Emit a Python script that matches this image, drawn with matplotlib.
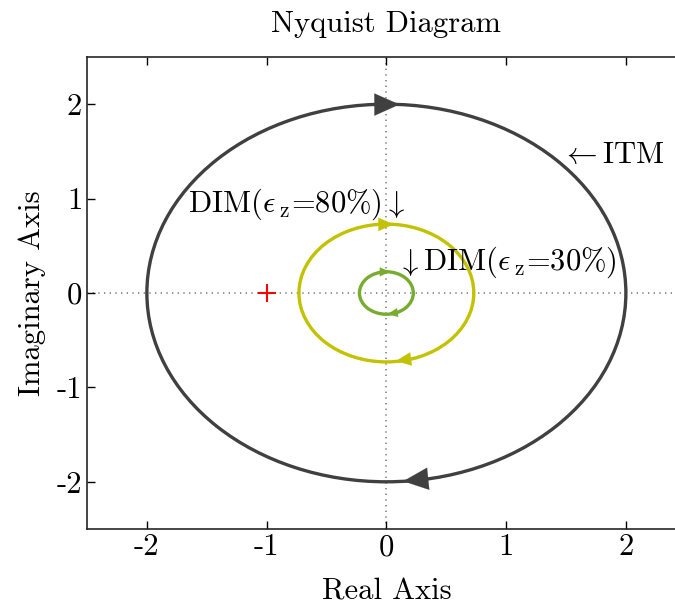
import matplotlib
matplotlib.use("Agg")
import matplotlib.pyplot as plt
from matplotlib.patches import Ellipse

plt.rcParams['font.family'] = 'serif'
plt.rcParams['font.serif'] = ['cmr10']
plt.rcParams['mathtext.fontset'] = 'cm'
plt.rcParams['axes.unicode_minus'] = False
plt.rcParams['axes.formatter.use_mathtext'] = True

# Curves (approximately circular Nyquist loops)
names = ['ITM', 'DIM80', 'DIM30']
center_x = [0.0, 0.0, 0.0]
center_y = [0.0, 0.0, 0.0]
radius_x = [2.0, 0.73, 0.225]
radius_y = [2.0, 0.73, 0.225]
colors = ['#404040', '#c2c200', '#77ac30']

# Direction arrows: (tail_x, tail_y, tip_x, tip_y)
arrows = {
    'ITM':   [(-0.12, 1.996, 0.11, 1.997), (0.36, -1.966, 0.14, -1.994)],
    'DIM80': [(-0.06, 0.727, 0.06, 0.727), (0.20, -0.70, 0.08, -0.72)],
    'DIM30': [(-0.04, 0.224, 0.03, 0.224), (0.07, -0.212, 0.01, -0.224)],
}
arrow_scale = {'ITM': 20, 'DIM80': 12, 'DIM30': 8}

critical_point = (-1.0, 0.0)

xticks = [-2, -1, 0, 1, 2]
yticks = [-2, -1, 0, 1, 2]

FS = 22

fig = plt.figure(figsize=(6.75, 6.06), dpi=100)
ax = fig.add_axes([87/675, (606-529)/606, 598.75/675, 472/606])

ax.axhline(0, color='#808080', ls=(0, (0.8, 2.6)), lw=1.2, zorder=1)
ax.axvline(0, color='#808080', ls=(0, (0.8, 2.6)), lw=1.2, zorder=1)

for n, cx, cy, rx, ry, c in zip(names, center_x, center_y, radius_x, radius_y, colors):
    e = Ellipse((cx, cy), 2*rx, 2*ry, fill=False, edgecolor=c, lw=2.4, zorder=3)
    ax.add_patch(e)
    for (tx, ty, hx, hy) in arrows[n]:
        ax.annotate('', xy=(hx, hy), xytext=(tx, ty),
                    arrowprops=dict(arrowstyle='-|>,head_length=0.9,head_width=0.4',
                                    color=c, lw=0.1, mutation_scale=arrow_scale[n],
                                    shrinkA=0, shrinkB=0), zorder=4)

ax.plot([critical_point[0]], [critical_point[1]], marker='+', color='red',
        markersize=13, mew=1.5, ls='none', zorder=5)

ax.text(1.46, 1.46, r'$\leftarrow$ITM', fontsize=FS, ha='left', va='center')
ax.text(-1.66, 0.86, r'DIM($\epsilon_{\;\mathrm{z}}$=80%)$\downarrow$', fontsize=FS,
        ha='left', va='baseline')
ax.text(0.09, 0.243, r'$\downarrow$DIM($\epsilon_{\;\mathrm{z}}$=30%)', fontsize=FS,
        ha='left', va='baseline')

ax.set_xlim(-2.5, 2.5)
ax.set_ylim(-2.5, 2.5)
ax.set_xticks(xticks)
ax.set_yticks(yticks)
ax.set_xticklabels([str(v) for v in xticks])
ax.set_yticklabels([str(v) for v in yticks])
ax.tick_params(direction='in', top=True, right=True, labelsize=FS, length=6, width=1)
for s in ax.spines.values():
    s.set_linewidth(1.2)
    s.set_color('#262626')

ax.set_title('Nyquist Diagram', fontsize=FS, pad=18)
ax.set_xlabel('Real Axis', fontsize=FS, labelpad=12)
ax.set_ylabel('Imaginary Axis', fontsize=FS, labelpad=8)

fig.savefig('out.png', dpi=100)
